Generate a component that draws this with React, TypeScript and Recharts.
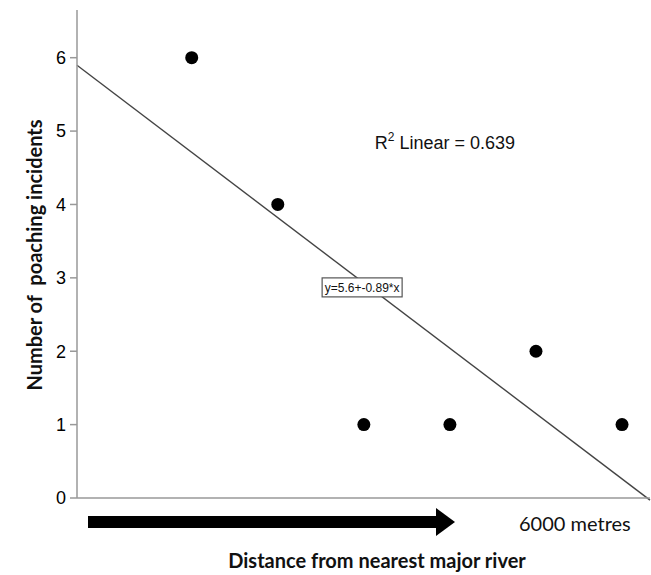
import {
  ScatterChart,
  Scatter,
  XAxis,
  YAxis,
  ReferenceLine,
  ReferenceDot,
} from "recharts";

// distance classes (1..6) and poaching incidents per class
const distances = [1, 2, 3, 4, 5, 6];
const incidents = [6, 4, 1, 1, 2, 1];
const yTicks = [0, 1, 2, 3, 4, 5, 6];

// fitted linear model from the figure
const intercept = 5.6;
const slope = -0.89;
const rSquared = "0.639";

const xDomain: [number, number] = [-0.333, 6.325];
const yDomain: [number, number] = [0, 6.65];

const data = distances.map((x, i) => ({ x, y: incidents[i] }));
const fit = (x: number) => intercept + slope * x;

const Dot = ({ cx, cy }: any) => <circle cx={cx} cy={cy} r={6.5} fill="#000" />;

const EquationBox = ({ cx, cy }: any) => (
  <g>
    <rect x={cx - 40} y={cy - 9.5} width={80} height={19} fill="#fff" stroke="#555" strokeWidth={1.2} />
    <text x={cx} y={cy + 4.5} textAnchor="middle" fontSize={12} fontFamily="Liberation Sans, Arial" fill="#111">
      {`y=${intercept}+${slope}*x`}
    </text>
  </g>
);

const RSquaredLabel = ({ cx, cy }: any) => (
  <text x={cx} y={cy + 6} textAnchor="middle" fontSize={18} fontFamily="Liberation Sans, Arial" fill="#111">
    R<tspan dy={-8} fontSize={12}>2</tspan>
    <tspan dy={8}>{` Linear = ${rSquared}`}</tspan>
  </text>
);

const App = () => {
  return (
    <div style={{ position: "absolute", left: 0, top: 0, width: 651, height: 575, background: "#fff" }}>
      <ScatterChart width={651} height={575} margin={{ top: 10, right: 1, left: 0, bottom: 0 }}>
        <XAxis
          type="number"
          dataKey="x"
          domain={xDomain}
          allowDataOverflow
          tick={false}
          tickLine={false}
          height={77}
          axisLine={{ stroke: "#999", strokeWidth: 1.5 }}
        />
        <YAxis
          type="number"
          dataKey="y"
          domain={yDomain}
          ticks={yTicks}
          allowDataOverflow
          width={77}
          tickSize={7}
          tickMargin={4}
          tickLine={{ stroke: "#999", strokeWidth: 1.5 }}
          axisLine={{ stroke: "#999", strokeWidth: 1.5 }}
          tick={{ fill: "#000", fontSize: 18, fontFamily: "Liberation Sans, Arial" }}
        />
        <ReferenceLine
          segment={[
            { x: xDomain[0], y: fit(xDomain[0]) },
            { x: xDomain[1], y: fit(xDomain[1]) },
          ]}
          stroke="#444"
          strokeWidth={1.4}
          ifOverflow="visible"
        />
        <Scatter data={data} fill="#000" isAnimationActive={false} shape={Dot} />
        <ReferenceDot x={2.98} y={2.87} r={0} shape={EquationBox} ifOverflow="visible" />
        <ReferenceDot x={3.943} y={4.84} r={0} shape={RSquaredLabel} ifOverflow="visible" />
      </ScatterChart>
      <svg width={651} height={575} style={{ position: "absolute", left: 0, top: 0, pointerEvents: "none" }}>
        <rect x={88} y={516} width={350} height={12} fill="#000" />
        <polygon points="436,508 455,522 436,536" fill="#000" />
        <text x={519} y={531} fontSize={20} fontFamily="Lato, Open Sans" fill="#111">
          6000 metres
        </text>
        <text x={377} y={568} textAnchor="middle" fontSize={20} fontWeight="bold" fontFamily="Lato, Open Sans" fill="#111">
          Distance from nearest major river
        </text>
        <text
          x={42}
          y={255}
          textAnchor="middle"
          fontSize={20}
          fontWeight="bold"
          fontFamily="Lato, Open Sans"
          fill="#111"
          transform="rotate(-90 42 255)"
          style={{ whiteSpace: "pre" }}
        >
          Number of  poaching incidents
        </text>
      </svg>
    </div>
  );
};

export default App;
